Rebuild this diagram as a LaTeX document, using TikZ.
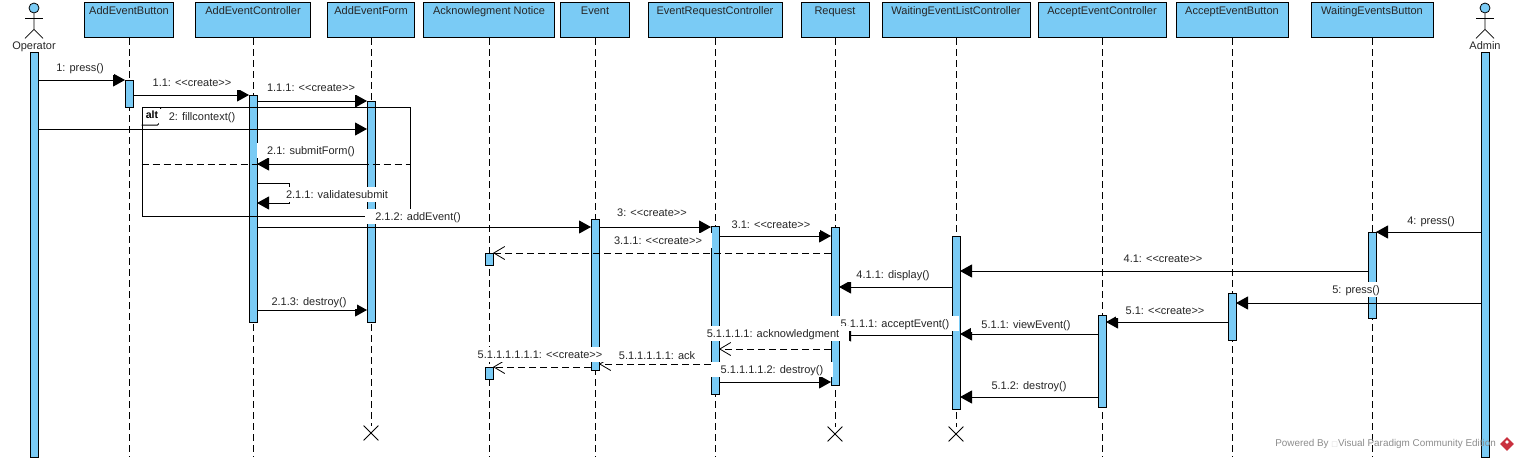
\documentclass[tikz,border=0pt]{standalone}
\usepackage{fontspec}
\setmainfont{Liberation Sans}
\newfontfamily\boxfont{DejaVu Sans}
\usetikzlibrary{arrows.meta,shapes.geometric,shapes.misc}
\definecolor{barblue}{HTML}{7ACBF5}
\definecolor{logored}{HTML}{C9303E}
\tikzset{
	headbox/.style = {draw, fill = barblue, anchor = north, inner sep = 0pt, text height = 12pt, text depth = 23pt, line width = 1pt, text = black!85, font = \fontsize{11}{12}\selectfont},
	actbar/.style = {draw, fill = barblue, anchor = north, inner sep = 0pt, outer sep = 0pt, minimum width = 8pt, line width = 1pt},
	lifeline/.style = {line width = 1pt, dash pattern = on 7pt off 4pt},
	msg/.style = {line width = 1pt, -{Triangle[length = 12pt, width = 13pt]}},
	msgback/.style = {line width = 0.8pt, dash pattern = on 7pt off 4pt, -{Straight Barb[length = 11pt, width = 13pt, line width = 0.8pt]}},
	msglabel/.style = {fill = white, inner xsep = 10pt, inner ysep = 0pt, minimum height = 15pt, text height = 8pt, text depth = 0pt, text = black!85, font = \fontsize{11}{12}\selectfont},
	killx/.style = {cross out, draw, minimum size = 14pt, inner sep = 0pt, line width = 0.8pt}
}
\begin{document}
\begin{tikzpicture}[x = 1pt, y = -1pt]
	\useasboundingbox (0,0) rectangle (1519,461);
	% heads
	\foreach \n/\x/\w/\t in {Btn/129/89/AddEventButton, Ctl/253/115/AddEventController, Form/371/87/AddEventForm, Ack/489/131/Acknowlegment Notice, Event/595/69/Event, Erc/715/134/EventRequestController, Req/835/68/Request, Wel/956/148/WaitingEventListController, Acc/1102/128/AcceptEventController, Abt/1232/112/AcceptEventButton, Wbt/1372/122/WaitingEventsButton}{
		\node [headbox, minimum width = \w pt] (h\n) at (\x,2) {\t};
	}
	% actors
	\foreach \n/\x/\t in {Op/34/Operator, Adm/1485/Admin}{
		\node [circle, draw, fill = barblue, inner sep = 0pt, minimum size = 10pt, line width = 0.8pt] (a\n) at (\x,8) {};
		\draw [line width = 0.8pt] (a\n.south) -- ++(0,16) -- ++(-9,9) ++(9,-9) -- ++(9,9);
		\draw [line width = 0.8pt] (\x-9,18) -- (\x+9,18);
		\node [anchor = base, text = black!85, inner sep = 0pt, font = \fontsize{11}{12}\selectfont] (t\n) at (\x,49) {\t};
	}
	% lifelines
	\node [killx] (xForm) at (371,433) {};
	\node [killx] (xReq) at (835,434) {};
	\node [killx] (xWel) at (956,434) {};
	\foreach \n/\x in {Btn/129, Ack/489, Event/595, Erc/715, Ctl/253, Acc/1102, Abt/1232, Wbt/1372}{
		\coordinate (e\n) at (\x,457);
	}
	\foreach \n/\e in {hBtn/eBtn, hCtl/eCtl, hForm/xForm, hAck/eAck, hEvent/eEvent, hErc/eErc, hReq/xReq, hWel/xWel, hAcc/eAcc, hAbt/eAbt, hWbt/eWbt}{
		\draw [lifeline] (\n.south) -- (\e);
	}
	% activation bars
	\foreach \n/\x/\a/\b in {bOp/34/52/457, bAdm/1485/52/457, bBtn/129/80/107, bCtl/253/95/322, bForm/371/101/322, bAck/489/253/265, bAckb/489/367/379, bEvent/595/219/370, bErc/715/226/394, bReq/835/227/385, bWel/956/236/409, bAcc/1102/315/407, bAbt/1232/293/340, bWbt/1372/232/318}{
		\node [actbar, minimum height = {(\b-\a)*1pt}] (\n) at (\x,\a) {};
	}
	% alt frame
	\node [draw, anchor = north west, inner sep = 0pt, line width = 1pt, minimum width = 268pt, minimum height = 109pt] (altframe) at (141.5,107) {};
	\draw [line width = 1pt] (altframe.north west) ++(0,18) -- ++(16,0) -- ++(3,-3) -- ++(0,-15);
	\draw [line width = 0.8pt, dash pattern = on 7pt off 4pt] (altframe.west |- 0,164) -- (altframe.east |- 0,164);
	\node [inner sep = 0pt, font = \fontsize{10.5}{12}\selectfont\bfseries] (altlabel) at (152,115) {alt};
	% messages
	\foreach \a/\b/\y in {bOp.east/bBtn.west/80, bBtn.east/bCtl.west/95, bCtl.east/bForm.west/101, bOp.east/bForm.west/129, bForm.west/bCtl.east/164, bCtl.east/bEvent.west/227, bEvent.east/bErc.west/227, bErc.east/bReq.west/236, bAdm.west/bWbt.east/232, bWbt.west/bWel.east/271, bWel.west/bReq.east/287, bAdm.west/bAbt.east/303, bAbt.west/bAcc.east/322, bAcc.west/bWel.east/334, bWel.west/bReq.east/335, bErc.east/bReq.west/382, bAcc.west/bWel.east/397, bCtl.east/bForm.west/310}{
		\draw [msg] (\a |- 0,\y) -- (\b |- 0,\y);
	}
	\foreach \a/\b/\y in {bReq.west/bAck.east/253, bReq.west/bErc.east/349, bErc.west/bEvent.east/364, bEvent.west/bAckb.east/367}{
		\draw [msgback] (\a |- 0,\y) -- (\b |- 0,\y);
	}
	\coordinate (selfa) at (289,183);
	\coordinate (selfb) at (289,203);
	\draw [msg] (bCtl.east |- selfa) -- (selfa) -- (selfb) -- (bCtl.east |- selfb);
	% message labels
	\foreach \x/\y/\t [count = \k] in {80/67/1: press(), 192/82/1.1: <{}<create>{}>, 311/87/1.1.1: <{}<create>{}>, 202/116/2: fillcontext(), 311/150/2.1: submitForm(), 337/194/2.1.1: validatesubmit, 418/216/2.1.2: addEvent(), 309/301/2.1.3: destroy(), 652/212/3: <{}<create>{}>, 771/224/3.1: <{}<create>{}>, 658/240/3.1.1: <{}<create>{}>, 1431/220/4: press(), 1163/258/4.1: <{}<create>{}>, 893/274/4.1.1: display(), 1356/289/5: press(), 1165/310/5.1: <{}<create>{}>, 1026/324/5.1.1: viewEvent(), 895/323/5.1.1.1: acceptEvent(), 773/333/5.1.1.1.1: acknowledgment, 657/355/5.1.1.1.1.1: ack, 540/354/5.1.1.1.1.1.1: <{}<create>{}>, 772/369/5.1.1.1.1.2: destroy(), 1029/385/5.1.2: destroy()}{
		\node [msglabel] (l\k) at (\x,\y) {\t};
	}
	% watermark
	\node [anchor = east, inner sep = 0pt, text = black!45, font = \fontsize{9.9}{12}\selectfont] (powered) at (1496,444) {Powered By {\boxfont\fontsize{7}{8}\selectfont\color{black!15}□}Visual Paradigm Community Edition};
	\node [diamond, fill = logored, inner sep = 0pt, minimum size = 14pt] (logo) at (1507,444) {};
	\node [diamond, fill = white, inner sep = 0pt, minimum size = 4pt] (logodot) at (1507,442) {};
\end{tikzpicture}
\end{document}
